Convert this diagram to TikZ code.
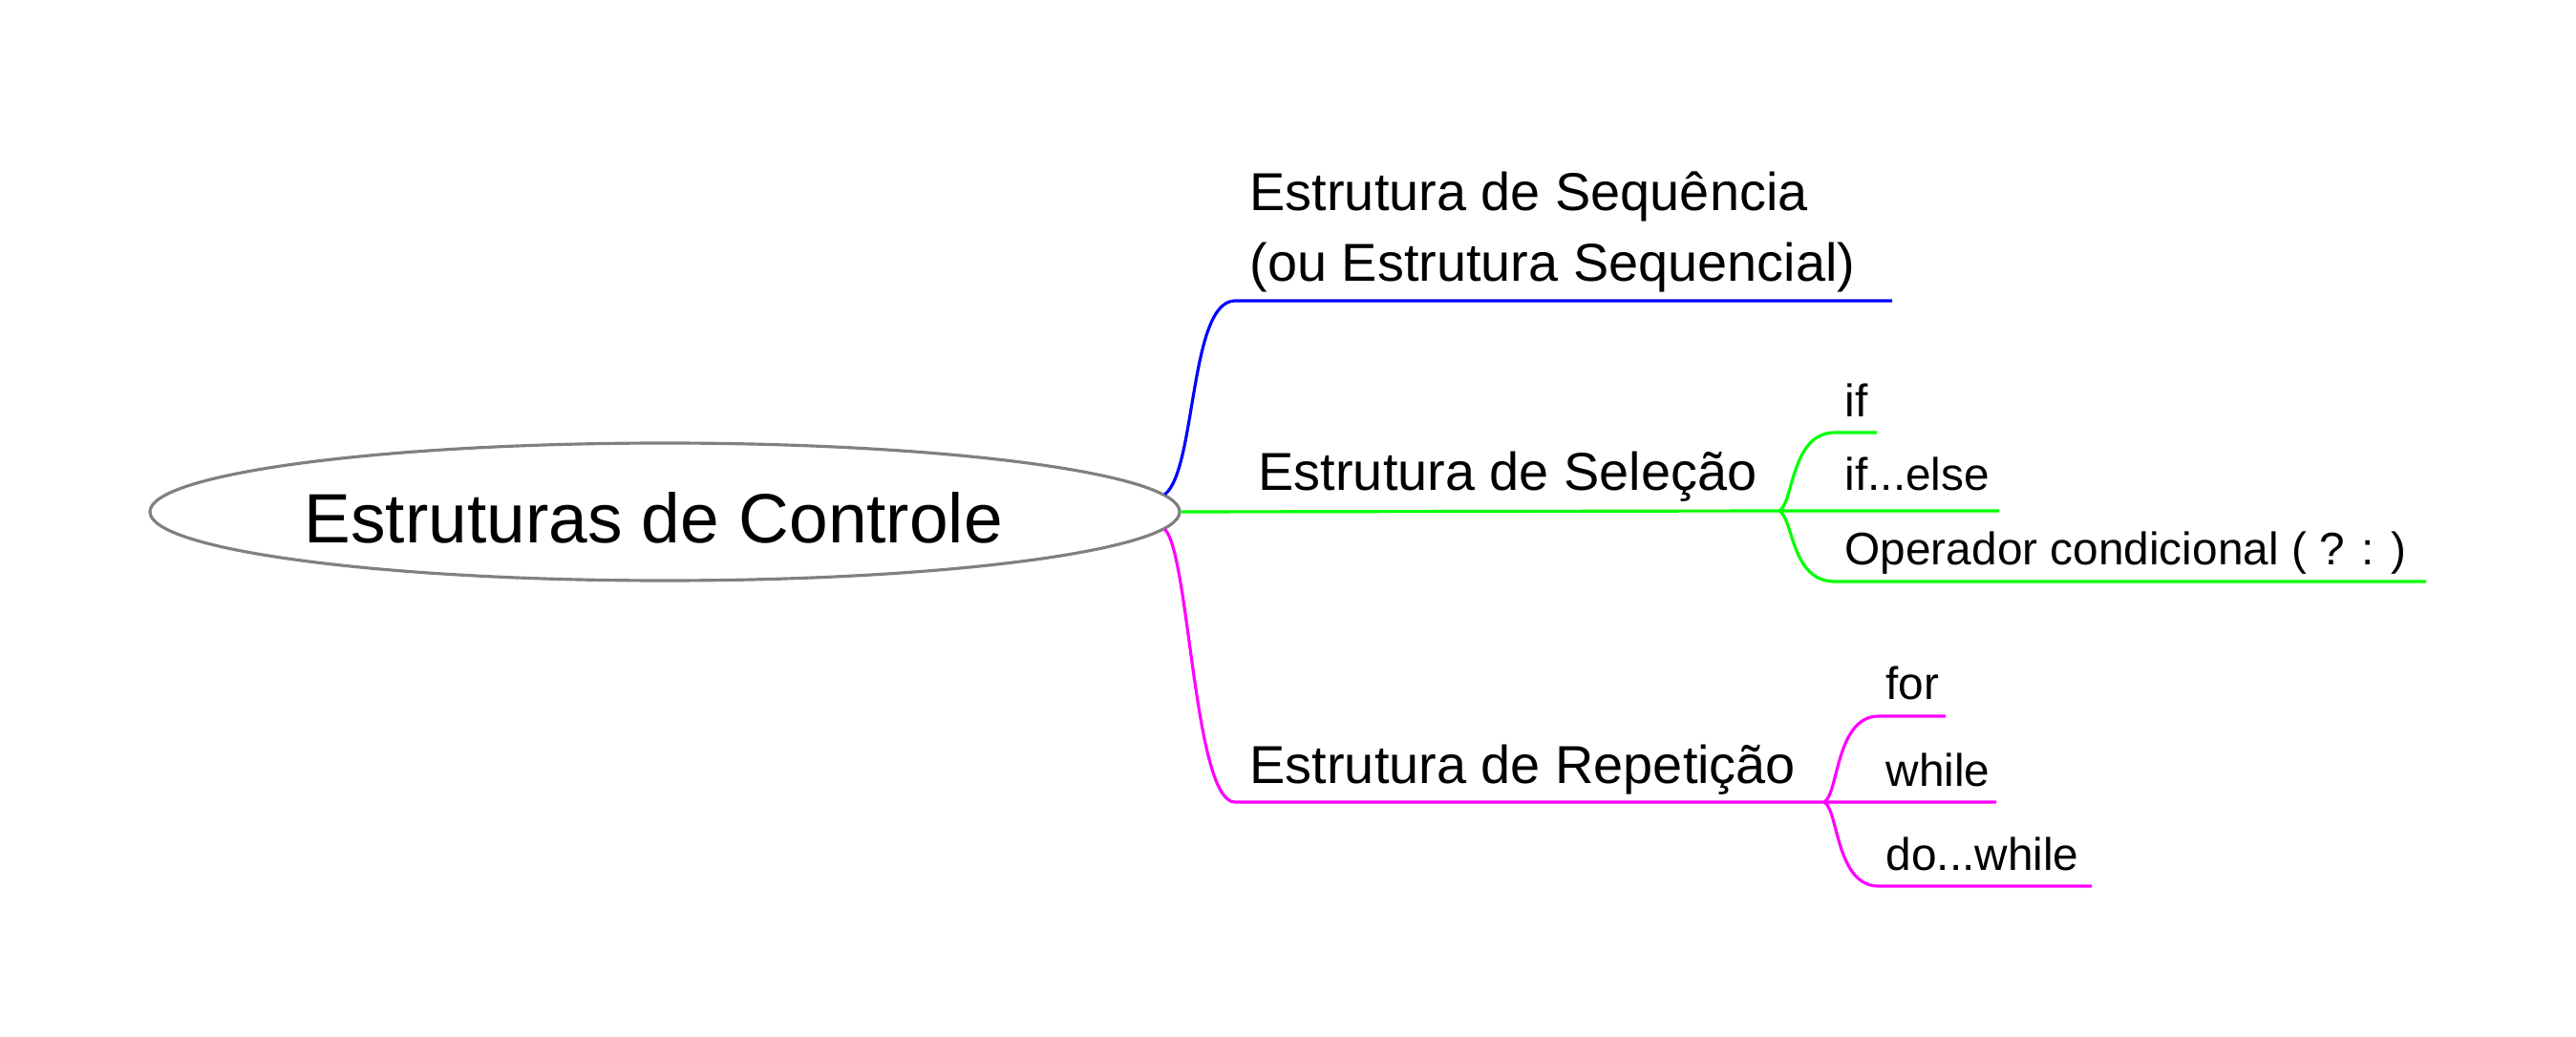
\documentclass[tikz,border=0pt]{standalone}
\usepackage{fontspec}
\setmainfont{Liberation Sans}
\usetikzlibrary{shapes.geometric, positioning}
\definecolor{azul}{RGB}{0,0,255}
\definecolor{verde}{RGB}{0,255,0}
\definecolor{rosa}{RGB}{255,0,255}
\definecolor{cinza}{RGB}{128,128,128}
\begin{document}
\begin{tikzpicture}[line width=0.9pt]
          % Estilos
          \tikzstyle{raiz} = [draw=cinza, ellipse, minimum width=10.78cm, minimum height=1.44cm, inner sep=0pt]
          \tikzstyle{titulo} = [anchor=base west, inner sep=0pt, font=\fontsize{20.8}{25}\selectfont]
          \tikzstyle{ramo} = [anchor=base west, inner sep=0pt, align=left, font=\fontsize{15.9}{21.3}\selectfont]
          \tikzstyle{folha} = [anchor=base west, inner sep=0pt, font=\fontsize{13.6}{16}\selectfont]
          \useasboundingbox (0,0) rectangle (26.97,10.85);

          % Nodo central
          \node [raiz] (ctrl) at (6.96,5.49) {};
          \node [titulo] (tit) at (3.17,5.16) {Estruturas de Controle};

          % Ramos principais
          \node [ramo] (seq) at (13.07,7.90) {Estrutura de Sequência\\(ou Estrutura Sequencial)};
          \node [ramo] (sel) at (13.16,5.71) {Estrutura de Seleção};
          \node [ramo] (rep) at (13.07,2.65) {Estrutura de Repetição};

          % Folhas
          \node [folha] (if) at (19.30,6.48) {if};
          \node [folha] (ifelse) at (19.30,5.71) {if...else};
          \node [folha] (opc) at (19.30,4.93) {Operador condicional ( ? : )};
          \node [folha] (for) at (19.73,3.53) {for};
          \node [folha] (while) at (19.73,2.62) {while};
          \node [folha] (dowhile) at (19.73,1.74) {do...while};

          % Pontos das linhas
          \coordinate (seqL) at (12.93,7.70);
          \coordinate (seqR) at (19.81,7.70);
          \coordinate (selJ) at (18.63,5.50);
          \coordinate (ifL) at (19.21,6.32);
          \coordinate (ifR) at (19.65,6.32);
          \coordinate (elseR) at (20.93,5.50);
          \coordinate (opL) at (19.21,4.76);
          \coordinate (opR) at (25.40,4.76);
          \coordinate (repL) at (12.93,2.45);
          \coordinate (repJ) at (19.10,2.45);
          \coordinate (forL) at (19.67,3.35);
          \coordinate (forR) at (20.37,3.35);
          \coordinate (whileR) at (20.90,2.45);
          \coordinate (dowL) at (19.67,1.57);
          \coordinate (dowR) at (21.90,1.57);

          % Conexoes
          \draw [azul] (ctrl.2.5) .. controls +(0.33,0.26) and +(-0.48,0) .. (seqL) -- (seqR);
          \draw [verde] (ctrl.east) -- (selJ) -- (elseR);
          \draw [verde] (selJ) .. controls +(0.15,0.09) and +(-0.46,0) .. (ifL) -- (ifR);
          \draw [verde] (selJ) .. controls +(0.15,-0.09) and +(-0.46,0) .. (opL) -- (opR);
          \draw [rosa] (ctrl.-2.5) .. controls +(0.26,-0.27) and +(-0.43,0) .. (repL) -- (repJ) -- (whileR);
          \draw [rosa] (repJ) .. controls +(0.15,0.09) and +(-0.45,0) .. (forL) -- (forR);
          \draw [rosa] (repJ) .. controls +(0.15,-0.09) and +(-0.45,0) .. (dowL) -- (dowR);
        \end{tikzpicture}
\end{document}
